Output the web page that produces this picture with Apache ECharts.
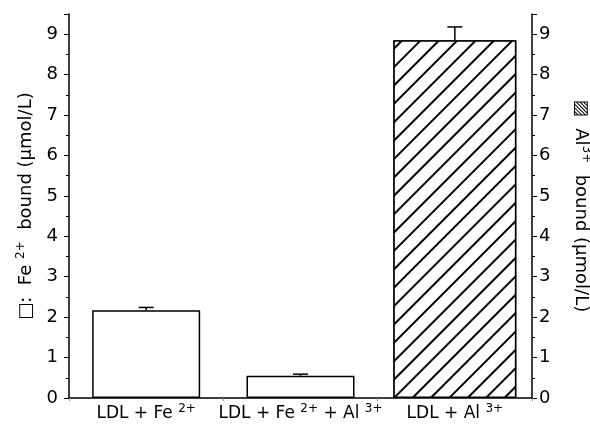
<!DOCTYPE html>
<html>
<head>
<meta charset="utf-8">
<script src="https://cdn.jsdelivr.net/npm/echarts@6/dist/echarts.min.js"></script>
<style>
  html, body { margin: 0; padding: 0; background: #fff; }
  #chart { width: 590px; height: 429px; }
</style>
</head>
<body>
<div id="chart"></div>
<script>
// categories on the x axis (rich text keys give the superscripts)
var categories = ['LDL + Fe {s|2+}', 'LDL + Fe {s|2+}{a| + Al }{s|3+}', 'LDL + Al {s|3+}'];
// Fe2+ bound (left axis), Al3+ bound (right axis)
var feValues = [2.17, 0.55, '-'];
var alValues = ['-', '-', 8.85];
// upward error bars
var errValues = [0.07, 0.04, 0.33];
var barValues = [2.17, 0.55, 8.85];

var font = '"DejaVu Sans", sans-serif';
var chart = echarts.init(document.getElementById('chart'));

var supRich = {
  a: { fontSize: 17, fontFamily: font, color: '#000' },
  s: { fontSize: 12, fontFamily: font, color: '#000', padding: [0, 0, 10, 0] }
};

function yAxisCommon() {
  return {
    type: 'value',
    min: 0,
    max: 9.5,
    interval: 1,
    axisLine: { show: true, lineStyle: { color: '#000', width: 1.5 } },
    axisTick: { show: true, length: 5, lineStyle: { color: '#000', width: 1 } },
    minorTick: { show: true, splitNumber: 2, length: 3, lineStyle: { color: '#000', width: 1 } },
    splitLine: { show: false },
    axisLabel: {
      color: '#000', fontSize: 18, fontFamily: font, margin: 11,
      formatter: function (v) { return Number.isInteger(v) ? v : ''; }
    },
    nameLocation: 'middle'
  };
}

var nameRich = {
  a: { fontSize: 18, fontFamily: font, color: '#000' },
  b: { fontSize: 18, fontFamily: font, color: '#000' },
  s: { fontSize: 12, fontFamily: font, color: '#000', padding: [0, 0, 10, 0] }
};

var yLeft = yAxisCommon();
yLeft.position = 'left';
yLeft.name = '{b|□}{a|:  Fe }{s|2+}{a|  bound (µmol/L)}';
yLeft.nameGap = 32;
yLeft.nameTextStyle = { rich: nameRich };

var yRight = yAxisCommon();
yRight.position = 'right';
yRight.axisLabel.margin = 7;
yRight.name = '{b|▨}{a|  Al}{s|3+}{a|  bound (µmol/L)}';
yRight.nameGap = 38;
yRight.nameRotate = -90;
yRight.nameTextStyle = { rich: nameRich };

chart.setOption({
  backgroundColor: '#fff',
  animation: false,
  grid: { left: 69, right: 58, top: 14, bottom: 31, outerBoundsMode: 'none' },
  xAxis: [
    {
      type: 'category',
      data: categories,
      boundaryGap: true,
      axisLine: { lineStyle: { color: '#000', width: 1.5 } },
      axisTick: { show: true, length: 3, lineStyle: { color: '#888', width: 1 } },
      axisLabel: {
        color: '#000', fontSize: 17, fontFamily: font, margin: 5,
        interval: 0,
        formatter: function (v) { return '{a|' + v.split('{s|')[0] + '}' + v.substring(v.indexOf('{s|')); },
        rich: supRich
      }
    },
    {
      // twin axis so the wider hatched bar keeps its own slot centre
      type: 'category',
      data: categories,
      position: 'bottom',
      show: false
    }
  ],
  yAxis: [yLeft, yRight],
  series: [
    {
      name: 'Fe',
      type: 'bar',
      xAxisIndex: 0,
      yAxisIndex: 0,
      data: feValues,
      barWidth: 108,
      itemStyle: { color: '#fff', borderColor: '#000', borderWidth: 1.5 }
    },
    {
      name: 'Al',
      type: 'bar',
      xAxisIndex: 1,
      yAxisIndex: 1,
      data: alValues,
      barWidth: 123,
      itemStyle: {
        color: '#fff', borderColor: '#000', borderWidth: 1.5,
        decal: {
          symbol: 'rect',
          color: '#000',
          backgroundColor: '#fff',
          dashArrayX: [1, 0],
          dashArrayY: [1.1, 10.2],
          rotation: -Math.PI / 4
        }
      }
    },
    {
      name: 'err',
      type: 'custom',
      xAxisIndex: 0,
      yAxisIndex: 0,
      z: 5,
      data: barValues.map(function (v, i) { return [i, v, v + errValues[i]]; }),
      renderItem: function (params, api) {
        var lo = api.coord([api.value(0), api.value(1)]);
        var hi = api.coord([api.value(0), api.value(2)]);
        return {
          type: 'group',
          children: [
            { type: 'line', shape: { x1: lo[0], y1: lo[1], x2: hi[0], y2: hi[1] }, style: { stroke: '#000', lineWidth: 1.5 } },
            { type: 'line', shape: { x1: hi[0] - 7.5, y1: hi[1], x2: hi[0] + 7.5, y2: hi[1] }, style: { stroke: '#000', lineWidth: 1.5 } }
          ]
        };
      }
    }
  ]
});
</script>
</body>
</html>
